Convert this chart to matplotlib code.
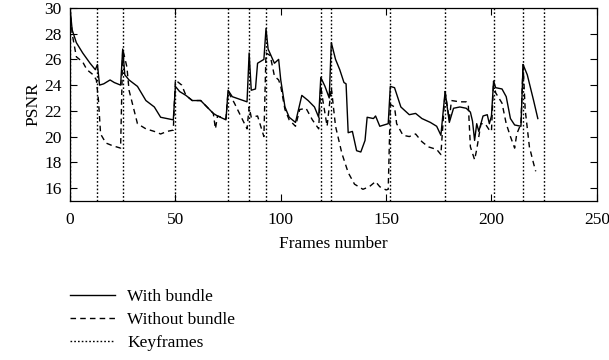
import matplotlib
matplotlib.use("Agg")
import matplotlib.pyplot as plt
from matplotlib.lines import Line2D

plt.rcParams['font.family'] = ['Liberation Serif', 'DejaVu Serif']

# PSNR with bundle adjustment (frame, value)
with_frames = [0, 1, 3, 6, 9.5, 12, 13, 14, 16, 19, 21, 24, 25, 26, 28, 32, 36, 40, 43, 46, 49,
               50, 52, 55, 58, 62, 65, 68, 70, 74, 75, 77, 84, 85, 86, 88, 89, 92, 93, 94, 97,
               99, 100, 102, 104, 107, 110, 113, 116, 118, 119, 121, 123, 124, 126, 128, 130,
               131, 132, 134, 136, 138, 140, 141, 144, 145, 147, 151, 152, 154, 157, 161, 164,
               167, 171, 174, 176, 178, 180, 182, 185, 188, 190, 191, 192, 193, 194, 196, 198,
               199, 200, 201, 202, 205, 207, 209, 211, 214, 215, 217, 220, 222]
with_psnr = [30.0, 28.3, 27.3, 26.5, 25.7, 25.2, 25.6, 24.0, 24.1, 24.4, 24.2, 24.0, 26.8, 24.8,
             24.4, 23.9, 22.8, 22.3, 21.5, 21.4, 21.3, 23.9, 23.5, 23.2, 22.8, 22.8, 22.3, 21.8,
             21.6, 21.3, 23.6, 23.1, 22.7, 26.5, 23.6, 23.7, 25.7, 26.0, 28.4, 26.8, 25.7, 26.0,
             24.4, 22.3, 21.5, 21.1, 23.2, 22.8, 22.3, 21.5, 24.6, 23.9, 23.0, 27.3, 26.0, 25.2,
             24.2, 24.1, 20.3, 20.4, 18.9, 18.8, 19.7, 21.5, 21.4, 21.6, 20.8, 21.0, 23.9, 23.8,
             22.3, 21.7, 21.8, 21.4, 21.1, 20.8, 20.1, 23.5, 21.1, 22.2, 22.3, 22.2, 21.9, 21.2,
             19.7, 21.0, 20.4, 21.6, 21.7, 21.0, 21.6, 24.3, 23.8, 23.7, 23.1, 21.4, 20.9, 20.8,
             25.6, 24.8, 22.8, 21.4]

# PSNR without bundle adjustment (frame, value)
without_frames = [0, 1, 3, 6, 8, 11, 12.5, 13.5, 14.5, 17, 20, 24, 25, 27, 28, 32, 36, 40, 43,
                  46, 49, 50, 53, 55, 58, 62, 65, 68, 69, 70, 74, 75, 78, 81, 84, 85, 86, 89, 92,
                  93, 95, 97, 99, 100, 102, 104, 107, 109, 112, 115, 118, 119, 120, 122, 124,
                  126, 129, 132, 135, 139, 142, 145, 147, 150, 151, 152, 154, 155, 158, 161, 164,
                  167, 170, 174, 176, 178, 180, 181, 185, 188, 189, 190, 192, 193, 195, 197, 199,
                  200, 201, 202, 205, 207, 209, 211, 212, 214, 215, 216, 218, 220, 221]
without_psnr = [30.0, 28.0, 26.2, 25.8, 25.2, 24.8, 24.4, 22.8, 20.2, 19.5, 19.3, 19.1, 26.8,
                25.4, 23.6, 21.0, 20.6, 20.4, 20.2, 20.4, 20.5, 24.4, 24.0, 23.2, 22.8, 22.8,
                22.3, 21.8, 20.6, 21.6, 21.4, 23.5, 22.6, 21.6, 20.6, 22.3, 21.5, 21.6, 20.0,
                26.5, 26.3, 24.7, 24.4, 23.9, 22.1, 21.3, 20.8, 22.1, 22.2, 21.3, 20.6, 23.9,
                22.8, 20.8, 23.8, 20.8, 18.7, 17.2, 16.3, 15.9, 16.1, 16.5, 16.1, 15.85, 15.9,
                22.5, 22.3, 21.0, 20.1, 20.0, 20.2, 19.6, 19.2, 19.0, 18.6, 23.5, 21.3, 22.8,
                22.7, 22.7, 22.5, 19.2, 18.2, 19.0, 21.0, 21.0, 20.5, 20.4, 24.3, 23.4, 22.6,
                21.0, 20.0, 19.1, 20.2, 21.0, 25.6, 22.1, 19.2, 17.9, 17.3]

keyframes = [0, 13, 25, 50, 75, 85, 93, 119, 124, 152, 178, 201, 215, 225]

fig = plt.figure(figsize=(6.09, 3.6), dpi=100)
ax = fig.add_axes([0.115, 0.442, 0.865, 0.536])

ax.plot(with_frames, with_psnr, color='black', lw=1.0, ls='-')
ax.plot(without_frames, without_psnr, color='black', lw=1.0, ls=(0, (4, 3)))
for k in keyframes:
    ax.axvline(k, color='black', lw=1.0, ls=(0, (1.2, 1.5)))

ax.set_xlim(0, 250)
ax.set_ylim(15, 30)
ax.set_xticks([0, 50, 100, 150, 200, 250])
ax.set_yticks([16, 18, 20, 22, 24, 26, 28, 30])
ax.tick_params(direction='in', top=True, right=True, labelsize=12.5, length=5, width=0.8)
ax.tick_params(axis='x', pad=8)
ax.tick_params(axis='y', pad=6)
for s in ax.spines.values():
    s.set_linewidth(0.9)
ax.set_xlabel('Frames number', fontsize=12.5, labelpad=6)
ax.set_ylabel('PSNR', fontsize=12.5, labelpad=2)

handles = [Line2D([], [], color='black', lw=1.0, ls='-'),
           Line2D([], [], color='black', lw=1.0, ls=(0, (4, 3))),
           Line2D([], [], color='black', lw=1.0, ls=(0, (1.2, 1.5)))]
fig.legend(handles, ['With bundle', 'Without bundle', 'Keyframes'],
           loc='upper left', bbox_to_anchor=(0.115, 0.198), frameon=False,
           borderpad=0, borderaxespad=0,
           fontsize=12.5, handlelength=2.6, handletextpad=0.7, labelspacing=0.4)

fig.savefig('out.png', dpi=100)
